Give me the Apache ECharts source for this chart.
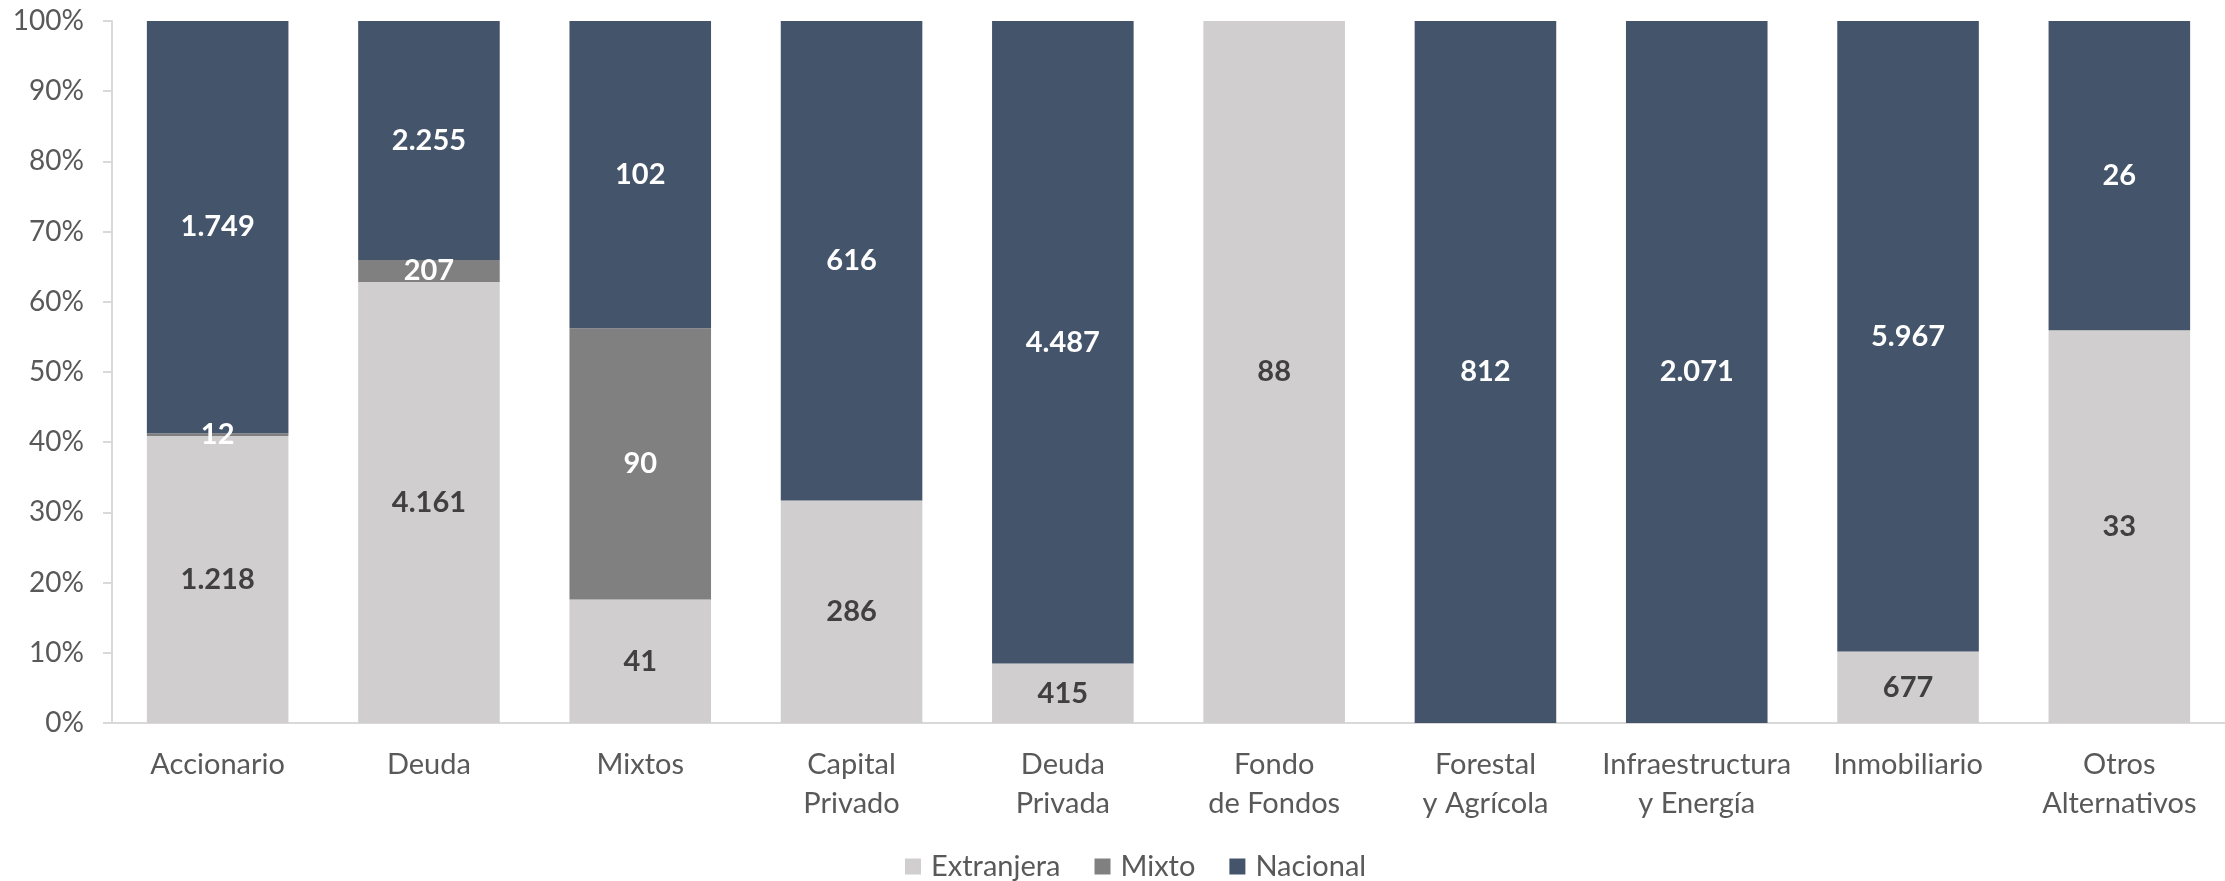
<!DOCTYPE html>
<html>
<head>
<meta charset="utf-8">
<script src="https://cdn.jsdelivr.net/npm/echarts@6/dist/echarts.min.js"></script>
<style>
  html, body { margin: 0; padding: 0; background: #fff; }
  #chart { width: 2225px; height: 881px; }
</style>
</head>
<body>
<div id="chart"></div>
<script>
// categorias del eje x
var categorias = ['Accionario', 'Deuda', 'Mixtos', 'Capital\nPrivado', 'Deuda\nPrivada',
    'Fondo\nde Fondos', 'Forestal\ny Agrícola', 'Infraestructura\ny Energía', 'Inmobiliario', 'Otros\nAlternativos'];

// valores absolutos por serie
var extranjera = [1218, 4161, 41, 286, 415, 88, 0, 0, 677, 33];
var mixto = [12, 207, 90, 0, 0, 0, 0, 0, 0, 0];
var nacional = [1749, 2255, 102, 616, 4487, 0, 812, 2071, 5967, 26];

var ticksY = [0, 10, 20, 30, 40, 50, 60, 70, 80, 90, 100];

var fuente = 'Lato';

// totales para pasar a 100%
var totales = categorias.map(function (c, i) {
    return extranjera[i] + mixto[i] + nacional[i];
});

function miles(v) {
    return String(v).replace(/\B(?=(\d{3})+(?!\d))/g, '.');
}

function armarSerie(nombre, valores, color, colorTexto) {
    return {
        name: nombre,
        type: 'bar',
        stack: 'total',
        barCategoryGap: '33%',
        itemStyle: {color: color},
        label: {
            show: true,
            position: 'inside',
            fontFamily: fuente,
            fontSize: 29,
            fontWeight: 'bold',
            color: colorTexto,
            formatter: function (p) {
                return miles(valores[p.dataIndex]);
            }
        },
        data: valores.map(function (v, i) {
            return {
                value: v / totales[i] * 100,
                label: {show: v > 0}
            };
        })
    };
}

var chart = echarts.init(document.getElementById('chart'));
chart.setOption({
    animation: false,
    legend: {
        bottom: -5,
        left: 900,
        itemWidth: 16,
        itemHeight: 16,
        itemGap: 34,
        icon: 'rect',
        textStyle: {fontFamily: fuente, fontSize: 29, color: '#595959', padding: [0, 0, 0, 5]},
        data: ['Extranjera', 'Mixto', 'Nacional']
    },
    grid: {
        left: 112,
        right: 0,
        top: 21,
        bottom: 158,
        containLabel: false
    },
    xAxis: {
        type: 'category',
        data: categorias,
        axisLine: {show: true, lineStyle: {color: '#d9d9d9', width: 2}},
        axisTick: {show: false},
        axisLabel: {
            fontFamily: fuente,
            fontSize: 29,
            color: '#595959',
            lineHeight: 39,
            margin: 22,
            interval: 0
        }
    },
    yAxis: {
        type: 'value',
        min: ticksY[0],
        max: ticksY[ticksY.length - 1],
        interval: 10,
        splitLine: {show: false},
        axisLine: {show: true, lineStyle: {color: '#d9d9d9', width: 2}},
        axisTick: {show: true, length: 9, lineStyle: {color: '#d9d9d9', width: 2}},
        axisLabel: {
            fontFamily: fuente,
            fontSize: 28,
            color: '#595959',
            margin: 28,
            formatter: '{value}%'
        }
    },
    series: [
        armarSerie('Extranjera', extranjera, '#D0CECE', '#404040'),
        armarSerie('Mixto', mixto, '#808080', '#ffffff'),
        armarSerie('Nacional', nacional, '#44546A', '#ffffff')
    ]
});
</script>
</body>
</html>
